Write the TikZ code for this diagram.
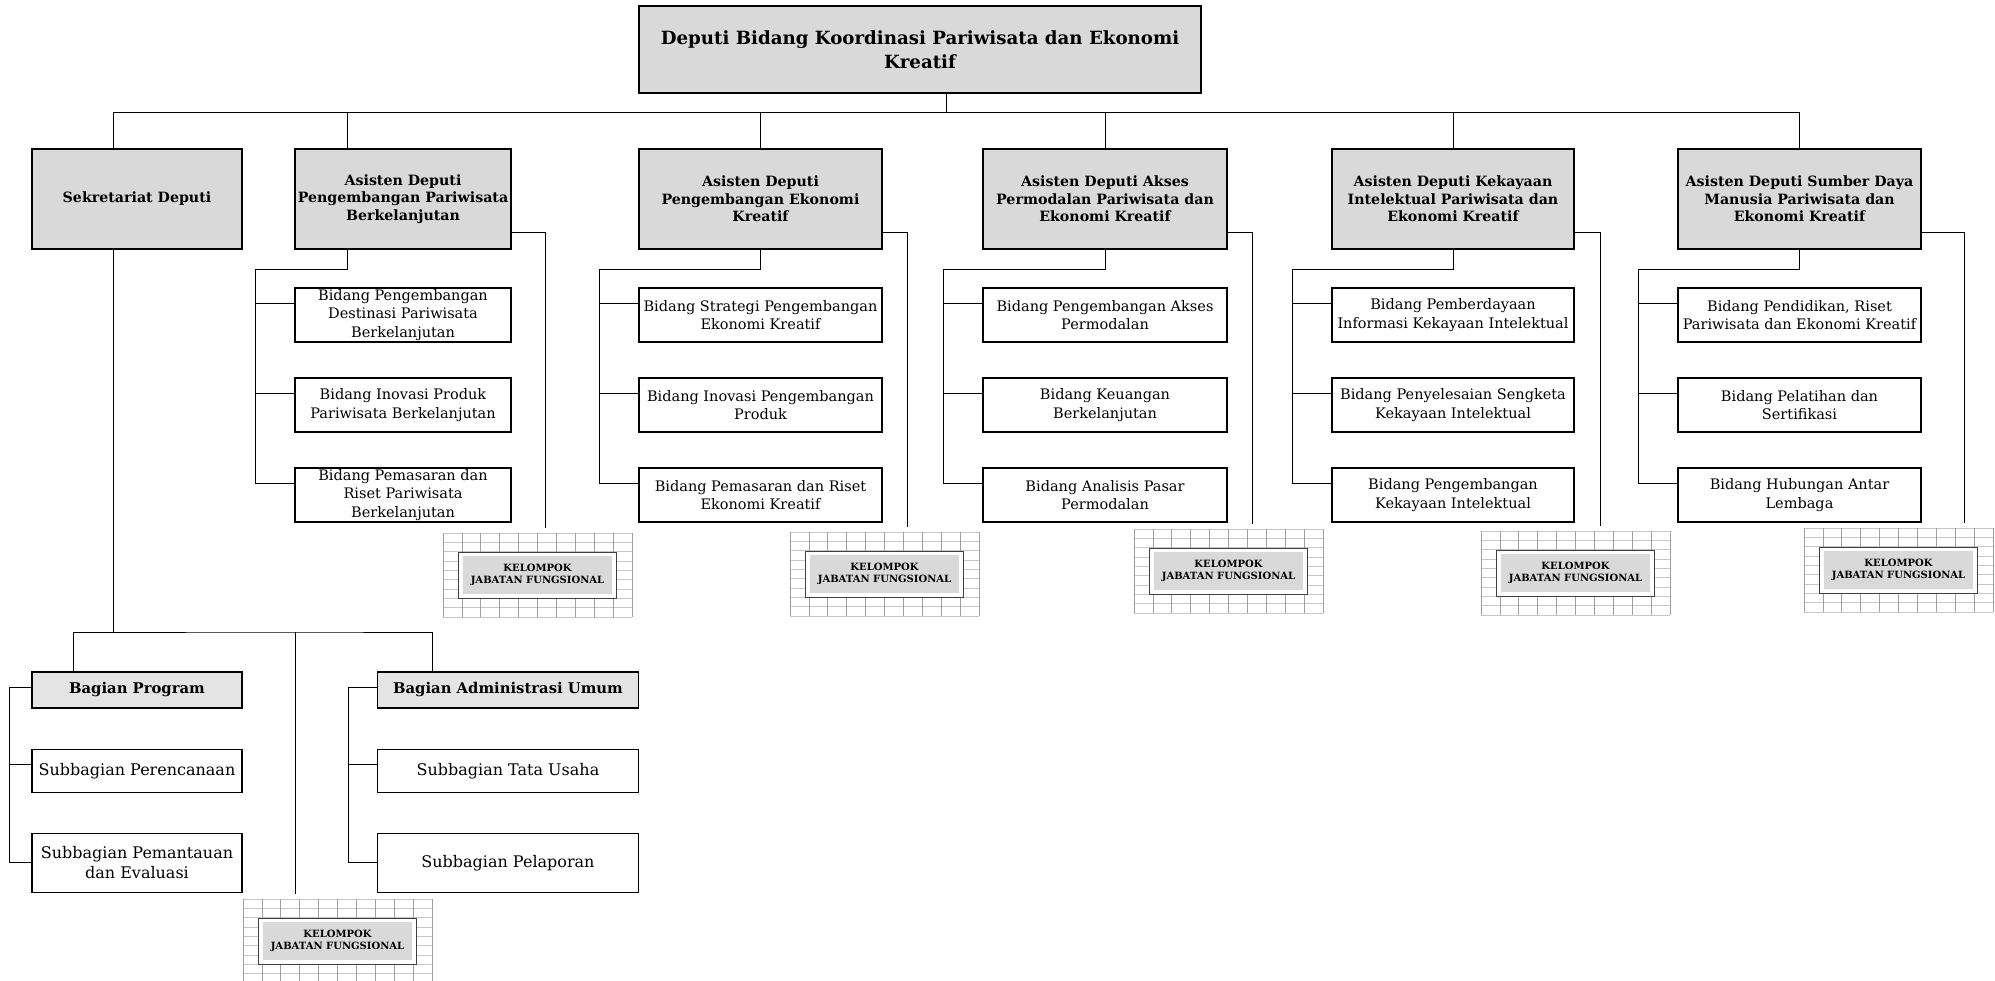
\documentclass[tikz,border=0pt]{standalone}
\usepackage{fontspec}
\setmainfont{DejaVu Serif}
\usetikzlibrary{calc}

\definecolor{abu}{HTML}{D9D9D9}

\tikzset{
  garis/.style={line width=0.85pt},
  kotak/.style={draw, line width=1.1pt, align=center, inner sep=0pt},
  judul/.style={kotak, fill=abu, font=\bfseries\fontsize{18.2}{24}\selectfont},
  kepala/.style={kotak, fill=abu, minimum height=100, font=\bfseries\fontsize{14.2}{17.7}\selectfont},
  bidang/.style={kotak, fill=white, minimum height=54, font=\fontsize{14.5}{18.5}\selectfont},
  bagian/.style={kotak, fill=abu!70!white, minimum height=36, font=\bfseries\fontsize{14.8}{18}\selectfont},
  subbagian/.style={kotak, fill=white, font=\fontsize{16}{20}\selectfont},
  kelompok/.pic={
    \fill[white] (0,0) rectangle (189,84);
    \foreach \j in {0,...,9} \draw[gray!45, line width=0.7pt] (0,9.333*\j) -- (189,9.333*\j);
    \foreach \i in {0,...,10} \draw[gray!75, line width=0.7pt] (18.9*\i,0) -- (18.9*\i,84);
    \node[draw=black!75, line width=0.9pt, fill=white, minimum width=158, minimum height=46, inner sep=0pt] (-luar) at (94.5,42) {};
    \node[fill=abu, minimum width=149, minimum height=38, inner sep=0pt, align=center,
      font=\bfseries\fontsize{10}{11.5}\selectfont] (-teks) at (94.5,42) {KELOMPOK\\JABATAN FUNGSIONAL};
    \coordinate (-atas) at (94.5,-5);
  }
}

\begin{document}
\begin{tikzpicture}[x=1pt, y=-1pt]
                \useasboundingbox (0,0) rectangle (1995,981);
                \fill[white] (0,0) rectangle (1995,981);
                \clip (0,0) rectangle (1995,981);

                \node[judul, minimum width=562, minimum height=87] (deputi) at (920,49.5) {Deputi Bidang Koordinasi Pariwisata dan Ekonomi\\Kreatif};

                \node[kepala, minimum width=210] (sekretariat) at (137,199) {Sekretariat Deputi};
                \node[kepala, minimum width=216] (asdep1) at (403,199) {Asisten Deputi\\Pengembangan Pariwisata\\Berkelanjutan};
                \node[kepala, minimum width=243] (asdep2) at (760.5,199) {Asisten Deputi\\Pengembangan Ekonomi\\Kreatif};
                \node[kepala, minimum width=244] (asdep3) at (1105,199) {Asisten Deputi Akses\\Permodalan Pariwisata dan\\Ekonomi Kreatif};
                \node[kepala, minimum width=242] (asdep4) at (1453,199) {Asisten Deputi Kekayaan\\Intelektual Pariwisata dan\\Ekonomi Kreatif};
                \node[kepala, minimum width=243] (asdep5) at (1799.5,199) {Asisten Deputi Sumber Daya\\Manusia Pariwisata dan\\Ekonomi Kreatif};

                \node[bidang, minimum width=216] (bid11) at (403,315) {Bidang Pengembangan\\Destinasi Pariwisata\\Berkelanjutan};
                \node[bidang, minimum width=216] (bid12) at (403,405) {Bidang Inovasi Produk\\Pariwisata Berkelanjutan};
                \node[bidang, minimum width=216] (bid13) at (403,495) {Bidang Pemasaran dan\\Riset Pariwisata\\Berkelanjutan};
                \node[bidang, minimum width=243] (bid21) at (760.5,315) {Bidang Strategi Pengembangan\\Ekonomi Kreatif};
                \node[bidang, minimum width=243] (bid22) at (760.5,405) {Bidang Inovasi Pengembangan\\Produk};
                \node[bidang, minimum width=243] (bid23) at (760.5,495) {Bidang Pemasaran dan Riset\\Ekonomi Kreatif};
                \node[bidang, minimum width=244] (bid31) at (1105,315) {Bidang Pengembangan Akses\\Permodalan};
                \node[bidang, minimum width=244] (bid32) at (1105,405) {Bidang Keuangan\\Berkelanjutan};
                \node[bidang, minimum width=244] (bid33) at (1105,495) {Bidang Analisis Pasar\\Permodalan};
                \node[bidang, minimum width=242] (bid41) at (1453,315) {Bidang Pemberdayaan\\Informasi Kekayaan Intelektual};
                \node[bidang, minimum width=242] (bid42) at (1453,405) {Bidang Penyelesaian Sengketa\\Kekayaan Intelektual};
                \node[bidang, minimum width=242] (bid43) at (1453,495) {Bidang Pengembangan\\Kekayaan Intelektual};
                \node[bidang, minimum width=243] (bid51) at (1799.5,315) {Bidang Pendidikan, Riset\\Pariwisata dan Ekonomi Kreatif};
                \node[bidang, minimum width=243] (bid52) at (1799.5,405) {Bidang Pelatihan dan\\Sertifikasi};
                \node[bidang, minimum width=243] (bid53) at (1799.5,495) {Bidang Hubungan Antar\\Lembaga};

                \node[bagian, minimum width=210] (program) at (137,690) {Bagian Program};
                \node[bagian, minimum width=261] (umum) at (508,690) {Bagian Administrasi Umum};
                \node[subbagian, minimum width=210, minimum height=43] (perencanaan) at (137,771) {Subbagian Perencanaan};
                \node[subbagian, minimum width=210, minimum height=59] (pemantauan) at (137,863) {Subbagian Pemantauan\\dan Evaluasi};
                \node[subbagian, minimum width=261, minimum height=43] (tatausaha) at (508,771) {Subbagian Tata Usaha};
                \node[subbagian, minimum width=261, minimum height=59] (pelaporan) at (508,863) {Subbagian Pelaporan};

                \pic (k1) at (443,533) {kelompok};
                \pic (k2) at (790,532) {kelompok};
                \pic (k3) at (1134,529) {kelompok};
                \pic (k4) at (1481,531) {kelompok};
                \pic (k5) at (1804,528) {kelompok};
                \pic (k0) at (243,899) {kelompok};

                \coordinate (bus) at (946,112);
                \draw[garis] (deputi.south -| bus) -- (bus);
                \draw[garis] (sekretariat.north -| 113,0) |- (asdep5.north |- bus) -- (asdep5.north);
                \draw[garis] (asdep1.north -| 347,0) -- (bus -| 347,0);
                \draw[garis] (asdep2.north) -- (asdep2.north |- bus);
                \draw[garis] (asdep3.north) -- (asdep3.north |- bus);
                \draw[garis] (asdep4.north) -- (asdep4.north |- bus);

                \draw[garis] (asdep1.south -| 347,0) -- ++(0,20) -| ($(bid13.west)+(-39,-12)$) -- ($(bid13.west)+(0,-12)$);
                \draw[garis] ($(bid11.west)+(-39,-12)$) -- ++(39,0) ($(bid12.west)+(-39,-12)$) -- ++(39,0);
                \draw[garis] (asdep2.south) -- ++(0,20) -| ($(bid23.west)+(-39,-12)$) -- ($(bid23.west)+(0,-12)$);
                \draw[garis] ($(bid21.west)+(-39,-12)$) -- ++(39,0) ($(bid22.west)+(-39,-12)$) -- ++(39,0);
                \draw[garis] (asdep3.south) -- ++(0,20) -| ($(bid33.west)+(-39,-12)$) -- ($(bid33.west)+(0,-12)$);
                \draw[garis] ($(bid31.west)+(-39,-12)$) -- ++(39,0) ($(bid32.west)+(-39,-12)$) -- ++(39,0);
                \draw[garis] (asdep4.south) -- ++(0,20) -| ($(bid43.west)+(-39,-12)$) -- ($(bid43.west)+(0,-12)$);
                \draw[garis] ($(bid41.west)+(-39,-12)$) -- ++(39,0) ($(bid42.west)+(-39,-12)$) -- ++(39,0);
                \draw[garis] (asdep5.south) -- ++(0,20) -| ($(bid53.west)+(-39,-12)$) -- ($(bid53.west)+(0,-12)$);
                \draw[garis] ($(bid51.west)+(-39,-12)$) -- ++(39,0) ($(bid52.west)+(-39,-12)$) -- ++(39,0);

                \draw[garis] (asdep1.east |- 0,232) -| (k1-atas -| 545,0);
                \draw[garis] (asdep2.east |- 0,232) -| (k2-atas -| 907,0);
                \draw[garis] (asdep3.east |- 0,232) -| (k3-atas -| 1252,0);
                \draw[garis] (asdep4.east |- 0,232) -| (k4-atas -| 1600,0);
                \draw[garis] (asdep5.east |- 0,232) -| (k5-atas -| 1964,0);

                \coordinate (bus2) at (295.5,632);
                \draw[garis] (sekretariat.south -| 113,0) -- (bus2 -| 113,0);
                \draw[garis] (program.north -| 73,0) |- (bus2) -| (umum.north -| 432,0);
                \draw[garis] (bus2) -- (k0-atas -| bus2);

                \draw[garis] ($(program.west)+(0,-3)$) -- ++(-22,0) |- ($(pemantauan.west)+(0,-1)$);
                \draw[garis] ($(perencanaan.west)+(-22,-7)$) -- ++(22,0);
                \draw[garis] ($(umum.west)+(0,-3)$) -- ++(-29,0) |- ($(pelaporan.west)+(0,-1)$);
                \draw[garis] ($(tatausaha.west)+(-29,-7)$) -- ++(29,0);
            \end{tikzpicture}
\end{document}
